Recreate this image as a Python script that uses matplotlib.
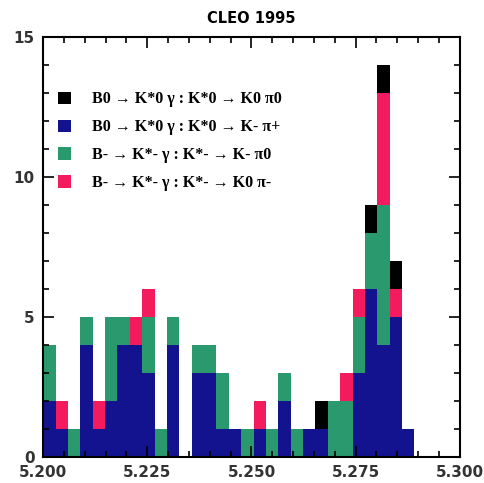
import numpy as np
import matplotlib
matplotlib.use("Agg")
import matplotlib.pyplot as plt
import matplotlib.ticker as ticker
from matplotlib.patches import Patch

# ── DATA: counts per bin starting at 5.200 GeV ───────────────────────────────
bin_start = 5.200
bin_width = 0.00297
blue  = [2, 1, 0, 4, 1, 2, 4, 4, 3, 0, 4, 0, 3, 3, 1, 1, 0, 1, 0, 2, 0, 1, 1, 0, 0, 3, 6, 4, 5, 1]
green = [2, 0, 1, 1, 0, 3, 1, 0, 2, 1, 1, 0, 1, 1, 2, 0, 1, 0, 1, 1, 1, 0, 0, 2, 2, 2, 2, 5, 0, 0]
red   = [0, 1, 0, 0, 1, 0, 0, 1, 1, 0, 0, 0, 0, 0, 0, 0, 0, 1, 0, 0, 0, 0, 0, 0, 1, 1, 0, 4, 1, 0]
black = [0, 0, 0, 0, 0, 0, 0, 0, 0, 0, 0, 0, 0, 0, 0, 0, 0, 0, 0, 0, 0, 0, 1, 0, 0, 0, 1, 1, 1, 0]

labels = [
    "B0 → K*0 γ : K*0 → K0 π0",
    "B0 → K*0 γ : K*0 → K- π+",
    "B- → K*- γ : K*- → K- π0",
    "B- → K*- γ : K*- → K0 π-",
]
xticks = [5.200, 5.225, 5.250, 5.275, 5.300]
yticks = [0, 5, 10, 15]

BLUE  = "#13138f"
GREEN = "#2a9a6e"
RED   = "#f41a5e"
BLACK = "#000000"

edges = bin_start + bin_width * np.arange(len(blue))

fig = plt.figure(figsize=(4.85, 4.83), dpi=100)
ax = fig.add_axes([0.089, 0.054, 0.859, 0.869])

bottom = np.zeros(len(blue))
for vals, col in [(blue, BLUE), (green, GREEN), (red, RED), (black, BLACK)]:
    vals = np.array(vals)
    ax.bar(edges, vals, width=bin_width, bottom=bottom, align="edge",
           color=col, linewidth=0)
    bottom += vals

ax.set_xlim(5.200, 5.300)
ax.set_ylim(0, 15)
ax.set_xticks(xticks)
ax.set_xticklabels([f"{v:.3f}" for v in xticks])
ax.set_yticks(yticks)
ax.xaxis.set_minor_locator(ticker.MultipleLocator(0.005))
ax.yaxis.set_minor_locator(ticker.MultipleLocator(1))
ax.tick_params(which="both", direction="in", top=True, right=True,
               width=1.2, labelsize=11)
ax.tick_params(which="major", length=8, pad=6)
ax.tick_params(which="minor", length=4)
for lab in ax.get_xticklabels() + ax.get_yticklabels():
    lab.set_fontweight("bold")
    lab.set_color("#333333")
for s in ax.spines.values():
    s.set_linewidth(1.5)

ax.set_title("CLEO 1995", fontsize=10.5, fontweight="bold", pad=10)

handles = [Patch(facecolor=c, edgecolor="none") for c in (BLACK, BLUE, GREEN, RED)]
ax.legend(handles, labels, loc="upper left", bbox_to_anchor=(0.0, 0.905),
          frameon=False, handlelength=0.85, handleheight=0.85,
          labelspacing=0.75, handletextpad=1.3,
          prop={"family": ["Liberation Serif", "DejaVu Serif"],
                "weight": "bold", "size": 11.5})

plt.savefig("out.png", dpi=100)
